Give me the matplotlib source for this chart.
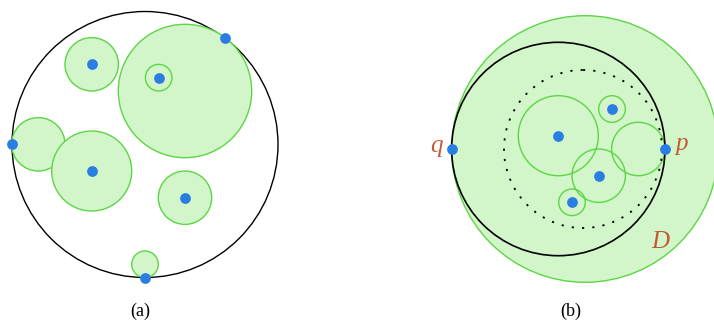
import matplotlib
matplotlib.use('Agg')
import matplotlib.pyplot as plt
from matplotlib.patches import Circle

# pixel-space geometry read off the reference
# panel (a)
a_outer = (145, 144.5, 133)
a_disks = [(185, 91, 66.7), (158.7, 77.7, 13.3), (91.7, 64.3, 26.7),
           (38.3, 144.3, 26.7), (91.7, 171, 40), (185, 197.7, 26.7),
           (145, 264.3, 13.3)]
a_points_x = [225.3, 11.7, 145, 91.7, 158.7, 91.7, 185]
a_points_y = [37.7, 144.3, 277.7, 64.3, 77.7, 171, 197.7]

# panel (b)
b_big = (585, 149, 133.3)
b_outer = (558.3, 149, 106.7)
b_dotted = (583, 149, 79)
b_disks = [(558.3, 135.7, 40), (612, 109, 13.3), (638.3, 149, 26.7),
           (598.7, 175.7, 26.7), (572, 202.3, 13.3)]
b_points_x = [451.7, 665, 558.3, 612, 598.7, 572]
b_points_y = [149, 149, 135.7, 109, 175.7, 202.3]

FILL = '#d2f5c9'
EDGE = '#5cd645'
BLUE = '#2a7de1'
LABEL = '#c45a32'

fig = plt.figure(figsize=(7.14, 3.21), dpi=100)
ax = fig.add_axes([0, 0, 1, 1])
ax.set_xlim(0, 714)
ax.set_ylim(321, 0)
ax.set_aspect('equal')
ax.axis('off')

# (a)
ax.add_patch(Circle(a_outer[:2], a_outer[2], fill=False, ec='black', lw=1.0, zorder=1))
for x, y, r in a_disks:
    ax.add_patch(Circle((x, y), r, fc=FILL, ec=EDGE, lw=1.0, zorder=2))
ax.scatter(a_points_x, a_points_y, s=60, color=BLUE, zorder=5, linewidths=0)

# (b)
ax.add_patch(Circle(b_big[:2], b_big[2], fc=FILL, ec=EDGE, lw=1.0, zorder=1))
ax.add_patch(Circle(b_outer[:2], b_outer[2], fill=False, ec='black', lw=1.2, zorder=3))
ax.add_patch(Circle(b_dotted[:2], b_dotted[2], fill=False, ec='black', lw=1.3,
                    ls=(0, (1.2, 4.5)), zorder=3))
for x, y, r in b_disks:
    ax.add_patch(Circle((x, y), r, fill=False, ec=EDGE, lw=1.0, zorder=2))
ax.scatter(b_points_x, b_points_y, s=60, color=BLUE, zorder=5, linewidths=0)

serif = 'Liberation Serif'
ax.text(436, 146, 'q', color=LABEL, fontsize=18, style='italic', family=serif,
        ha='center', va='center')
ax.text(682, 144, 'p', color=LABEL, fontsize=18, style='italic', family=serif,
        ha='center', va='center')
ax.text(660, 242, 'D', color=LABEL, fontsize=18, style='italic', family=serif,
        ha='center', va='center')

ax.text(140, 311, '(a)', fontsize=13, family=serif, ha='center', va='center')
ax.text(571, 311, '(b)', fontsize=13, family=serif, ha='center', va='center')

fig.savefig('out.png', dpi=100)
